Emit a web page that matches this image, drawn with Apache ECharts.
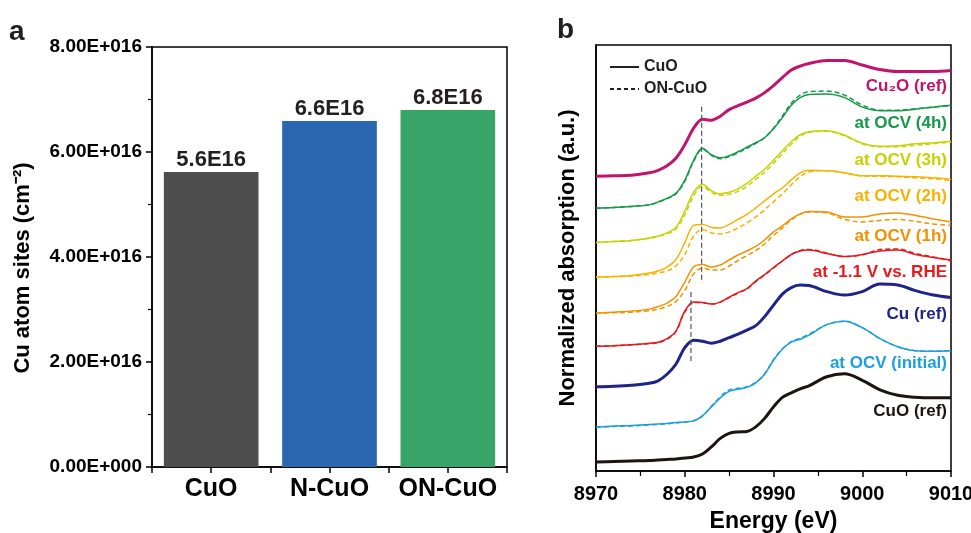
<!DOCTYPE html>
<html><head><meta charset="utf-8">
<script src="https://cdn.jsdelivr.net/npm/echarts@6/dist/echarts.min.js"></script>
<style>html,body{margin:0;padding:0;background:#fff}#c{width:971px;height:533px}</style>
</head><body><div id="c"></div>
<script>
const FONT = "'Liberation Sans', Arial, Helvetica, sans-serif";

// ---------- Panel a data ----------
const barCategories = ['CuO', 'N-CuO', 'ON-CuO'];
const barValues = [5.62e16, 6.59e16, 6.80e16];
const barLabels = ['5.6E16', '6.6E16', '6.8E16'];
const barColors = ['#4d4d4d', '#2b67b0', '#38a467'];
const yTickLabelsA = ['0.00E+000', '2.00E+016', '4.00E+016', '6.00E+016', '8.00E+016'];

// ---------- Panel b data (normalized absorption, each curve relative to its own pre-edge) ----------
const energy = [8970, 8972, 8974, 8976, 8977, 8978, 8979, 8980, 8981, 8982, 8983, 8984, 8985, 8986, 8987, 8988, 8989, 8990, 8991, 8992, 8993, 8994, 8996, 8998, 9000, 9002, 9004, 9006, 9008, 9010];

const cuoRef   = [0, 0.01, 0.02, 0.03, 0.04, 0.05, 0.06, 0.08, 0.10, 0.16, 0.30, 0.47, 0.57, 0.60, 0.61, 0.70, 0.87, 1.10, 1.29, 1.38, 1.46, 1.52, 1.70, 1.76, 1.63, 1.44, 1.33, 1.29, 1.28, 1.28];
const initCuO  = [0, 0.02, 0.03, 0.05, 0.06, 0.07, 0.09, 0.10, 0.12, 0.22, 0.40, 0.58, 0.71, 0.75, 0.79, 0.88, 1.05, 1.33, 1.55, 1.69, 1.75, 1.83, 2.04, 2.11, 1.98, 1.76, 1.60, 1.52, 1.51, 1.52];
const initON   = [-0.01, 0.01, 0.02, 0.04, 0.05, 0.06, 0.08, 0.10, 0.12, 0.22, 0.41, 0.60, 0.74, 0.77, 0.80, 0.89, 1.06, 1.34, 1.56, 1.70, 1.77, 1.85, 2.04, 2.11, 1.98, 1.76, 1.60, 1.52, 1.51, 1.52];
const cuRef    = [0, 0.01, 0.03, 0.07, 0.12, 0.25, 0.45, 0.78, 0.93, 0.91, 0.87, 0.91, 0.98, 1.05, 1.13, 1.22, 1.40, 1.63, 1.85, 1.98, 2.03, 2.02, 1.90, 1.83, 1.90, 2.05, 2.03, 1.92, 1.83, 1.78];
const rheCuO   = [0, 0.01, 0.03, 0.06, 0.08, 0.15, 0.30, 0.70, 0.88, 0.87, 0.84, 0.88, 0.98, 1.07, 1.15, 1.30, 1.43, 1.57, 1.70, 1.83, 1.90, 1.92, 1.85, 1.79, 1.83, 1.90, 1.92, 1.83, 1.77, 1.72];
const rheON    = [0, 0.01, 0.03, 0.05, 0.07, 0.14, 0.29, 0.68, 0.87, 0.87, 0.84, 0.88, 0.97, 1.06, 1.14, 1.29, 1.42, 1.56, 1.70, 1.83, 1.91, 1.93, 1.86, 1.79, 1.82, 1.93, 1.94, 1.85, 1.78, 1.70];
const h1CuO    = [0, 0.02, 0.04, 0.08, 0.13, 0.20, 0.33, 0.62, 0.92, 0.97, 0.92, 0.96, 1.06, 1.16, 1.24, 1.33, 1.46, 1.62, 1.74, 1.88, 1.98, 2.03, 2.02, 1.92, 1.92, 1.98, 2.00, 1.95, 1.88, 1.82];
const h1ON     = [0, 0.01, 0.02, 0.05, 0.08, 0.13, 0.23, 0.45, 0.78, 0.90, 0.86, 0.86, 0.94, 1.05, 1.15, 1.25, 1.38, 1.55, 1.70, 1.86, 1.97, 2.02, 2.00, 1.87, 1.82, 1.85, 1.87, 1.83, 1.78, 1.75];
const h2CuO    = [0, 0.01, 0.03, 0.08, 0.12, 0.20, 0.35, 0.68, 1.03, 1.05, 0.99, 0.98, 1.05, 1.15, 1.25, 1.38, 1.52, 1.66, 1.78, 1.94, 2.08, 2.13, 2.12, 2.08, 2.02, 2.02, 2.01, 2.00, 1.98, 1.95];
const h2ON     = [0, 0.01, 0.02, 0.05, 0.08, 0.12, 0.22, 0.45, 0.82, 0.95, 0.88, 0.86, 0.90, 0.98, 1.08, 1.20, 1.34, 1.50, 1.66, 1.84, 2.00, 2.10, 2.12, 2.08, 2.02, 2.01, 2.00, 1.98, 1.96, 1.93];
const h3CuO    = [0, 0.02, 0.04, 0.09, 0.13, 0.19, 0.30, 0.62, 1.00, 1.16, 1.03, 0.97, 1.00, 1.07, 1.18, 1.32, 1.46, 1.64, 1.83, 2.01, 2.15, 2.21, 2.23, 2.14, 1.98, 1.92, 1.93, 1.97, 1.99, 2.02];
const h3ON     = [0, 0.02, 0.04, 0.08, 0.12, 0.17, 0.27, 0.55, 0.93, 1.12, 1.00, 0.94, 0.96, 1.02, 1.12, 1.26, 1.40, 1.58, 1.77, 1.96, 2.12, 2.20, 2.22, 2.13, 1.97, 1.91, 1.91, 1.94, 1.97, 2.00];
const h4CuO    = [0, 0.01, 0.03, 0.06, 0.12, 0.19, 0.29, 0.55, 0.95, 1.19, 1.06, 1.00, 1.04, 1.12, 1.21, 1.30, 1.40, 1.58, 1.80, 2.05, 2.20, 2.26, 2.27, 2.20, 2.01, 1.94, 1.94, 1.97, 2.01, 2.05];
const h4ON     = [-0.01, 0.01, 0.03, 0.06, 0.11, 0.18, 0.28, 0.53, 0.93, 1.17, 1.05, 0.98, 1.02, 1.10, 1.19, 1.29, 1.40, 1.59, 1.83, 2.09, 2.25, 2.32, 2.33, 2.25, 2.05, 1.95, 1.95, 1.98, 2.01, 2.04];
const cu2oRef  = [0, 0.01, 0.02, 0.07, 0.12, 0.21, 0.36, 0.63, 0.96, 1.14, 1.12, 1.20, 1.33, 1.41, 1.48, 1.56, 1.67, 1.81, 1.97, 2.12, 2.20, 2.25, 2.31, 2.31, 2.22, 2.13, 2.09, 2.09, 2.09, 2.11];

const curveLabels  = ['CuO (ref)', 'at OCV (initial)', 'Cu (ref)', 'at -1.1 V vs. RHE', 'at OCV (1h)', 'at OCV (2h)', 'at OCV (3h)', 'at OCV (4h)', 'Cu\u2082O (ref)'];
const curveOffsets = [0.18, 0.88, 1.68, 2.49, 3.15, 3.87, 4.56, 5.25, 5.88];
const curveColors  = ['#1c1412', '#1d9fdc', '#1f2489', '#e8191c', '#f39100', '#f6b300', '#c5d300', '#17984a', '#c1156d'];
const solidCurves  = [cuoRef, initCuO, cuRef, rheCuO, h1CuO, h2CuO, h3CuO, h4CuO, cu2oRef];
const dashedCurves = [null, initON, null, rheON, h1ON, h2ON, h3ON, h4ON, null];
const isReference  = [true, false, true, false, false, false, false, false, true];

const markerLineE  = [8981.9, 8980.7];
const markerLineY  = [[7.27, 3.75], [3.57, 2.14]];

// ---------- build ----------
const chart = echarts.init(document.getElementById('c'), null, {renderer: 'canvas'});
const black = '#000';
const txt = '#231f20';

const seriesB = [];
solidCurves.forEach((arr, k) => {
  const off = curveOffsets[k];
  if (dashedCurves[k]) {
    seriesB.push({
      type: 'line', xAxisIndex: 2, yAxisIndex: 1, symbol: 'none', smooth: 0.35, silent: true,
      data: energy.map((e, i) => [e, dashedCurves[k][i] + off]),
      lineStyle: {color: curveColors[k], width: 1.5, type: [5, 3]}, z: 3
    });
  }
  seriesB.push({
    type: 'line', xAxisIndex: 2, yAxisIndex: 1, symbol: 'none', smooth: 0.35, silent: true,
    data: energy.map((e, i) => [e, arr[i] + off]),
    lineStyle: {color: curveColors[k], width: isReference[k] ? 3 : 1.5}, z: 4
  });
});
markerLineE.forEach((e, k) => {
  seriesB.push({
    type: 'line', xAxisIndex: 2, yAxisIndex: 1, symbol: 'none', silent: true,
    data: [[e, markerLineY[k][0]], [e, markerLineY[k][1]]],
    lineStyle: {color: '#555', width: 1.2, type: [5, 3]}, z: 5
  });
});
// legend entries
seriesB.push({name: 'CuO', type: 'line', xAxisIndex: 2, yAxisIndex: 1, symbol: 'none', data: [],
  itemStyle: {color: txt}, lineStyle: {color: txt, width: 1.3}});
seriesB.push({name: 'ON-CuO', type: 'line', xAxisIndex: 2, yAxisIndex: 1, symbol: 'none', data: [],
  itemStyle: {color: txt}, lineStyle: {color: txt, width: 1.3, type: [4, 3]}});

const labelY = [411, 363, 314, 272, 236, 196, 160, 123, 86];
const graphics = [
  {type: 'text', left: 9, top: 18, style: {text: 'a', fill: txt, font: 'bold 28px ' + FONT}},
  {type: 'text', left: 557, top: 16, style: {text: 'b', fill: txt, font: 'bold 28px ' + FONT}},
  {type: 'text', x: 23, y: 268, rotation: Math.PI / 2, silent: true,
   style: {text: 'Cu atom sites (cm\u207B\u00B2)', fill: black, font: 'bold 22px ' + FONT, align: 'center', verticalAlign: 'middle'}}
];
curveLabels.forEach((t, k) => {
  graphics.push({type: 'text', x: 947, y: labelY[k], silent: true,
    style: {text: t, fill: curveColors[k], font: 'bold 17px ' + FONT, align: 'right', verticalAlign: 'middle'}});
});

const axisLine = {show: true, lineStyle: {color: black, width: 1.5}};
const option = {
  animation: false,
  backgroundColor: '#fff',
  textStyle: {fontFamily: FONT},
  grid: [
    {left: 152, top: 47, width: 355, height: 420, show: true, borderColor: black, borderWidth: 1.5,
     backgroundColor: 'transparent', containLabel: false, outerBoundsMode: 'none'},
    {left: 596, top: 45, width: 355, height: 426, show: true, borderColor: black, borderWidth: 1.5,
     backgroundColor: 'transparent', containLabel: false, outerBoundsMode: 'none'}
  ],
  legend: {
    data: ['CuO', 'ON-CuO'], orient: 'vertical', left: 604, top: 54, itemWidth: 29, itemHeight: 14, itemGap: 6,
    itemStyle: {color: 'rgba(0,0,0,0)', borderWidth: 0, opacity: 0},
    textStyle: {color: txt, fontSize: 16, fontWeight: 'bold', fontFamily: FONT, padding: [0, 0, 0, 0]},
    selectedMode: false
  },
  xAxis: [
    {gridIndex: 0, type: 'category', data: barCategories, axisLine: axisLine,
     axisTick: {show: true, alignWithLabel: true, length: 6, lineStyle: {color: black, width: 1.5}},
     axisLabel: {color: black, fontSize: 25, fontWeight: 'bold', margin: 10, fontFamily: FONT, interval: 0, hideOverlap: false},
     splitLine: {show: false}},
    {gridIndex: 0, type: 'category', data: barCategories, position: 'bottom', axisLine: {show: false},
     axisTick: {show: true, length: 6, lineStyle: {color: black, width: 1.5}},
     axisLabel: {show: false}, splitLine: {show: false}},
    {gridIndex: 1, type: 'value', min: 8970, max: 9010, interval: 10, axisLine: axisLine,
     axisTick: {show: true, length: 6, lineStyle: {color: black, width: 1.5}},
     minorTick: {show: true, splitNumber: 2, length: 5, lineStyle: {color: black, width: 1.2}},
     axisLabel: {color: black, fontSize: 20, fontWeight: 'bold', margin: 13, fontFamily: FONT,
       formatter: v => String(v)},
     splitLine: {show: false}, minorSplitLine: {show: false},
     name: 'Energy (eV)', nameLocation: 'middle', nameGap: 39,
     nameTextStyle: {color: black, fontSize: 23, fontWeight: 'bold', fontFamily: FONT}}
  ],
  yAxis: [
    {gridIndex: 0, type: 'value', min: 0, max: 8e16, interval: 2e16, axisLine: axisLine,
     axisTick: {show: true, length: 6, lineStyle: {color: black, width: 1.5}},
     minorTick: {show: true, splitNumber: 2, length: 4, lineStyle: {color: black, width: 1.2}},
     axisLabel: {color: black, fontSize: 19, fontWeight: 'bold', margin: 10, fontFamily: FONT,
       formatter: v => yTickLabelsA[Math.round(v / 2e16)]},
     splitLine: {show: false}, minorSplitLine: {show: false}},
    {gridIndex: 1, type: 'value', min: 0, max: 8.5, axisLine: axisLine,
     axisTick: {show: false}, axisLabel: {show: false}, splitLine: {show: false},
     name: 'Normalized absorption (a.u.)', nameLocation: 'middle', nameGap: 17, nameRotate: 90,
     nameTextStyle: {color: black, fontSize: 22, fontWeight: 'bold', fontFamily: FONT}}
  ],
  series: [
    {type: 'bar', xAxisIndex: 0, yAxisIndex: 0, barWidth: '80%',
     data: barValues.map((v, i) => ({value: v, itemStyle: {color: barColors[i]}})),
     label: {show: true, position: 'top', distance: 1, color: txt, fontSize: 22, fontWeight: 'bold', fontFamily: FONT,
       formatter: p => barLabels[p.dataIndex]}}
  ].concat(seriesB),
  graphic: graphics
};
chart.setOption(option);
</script>
</body></html>
